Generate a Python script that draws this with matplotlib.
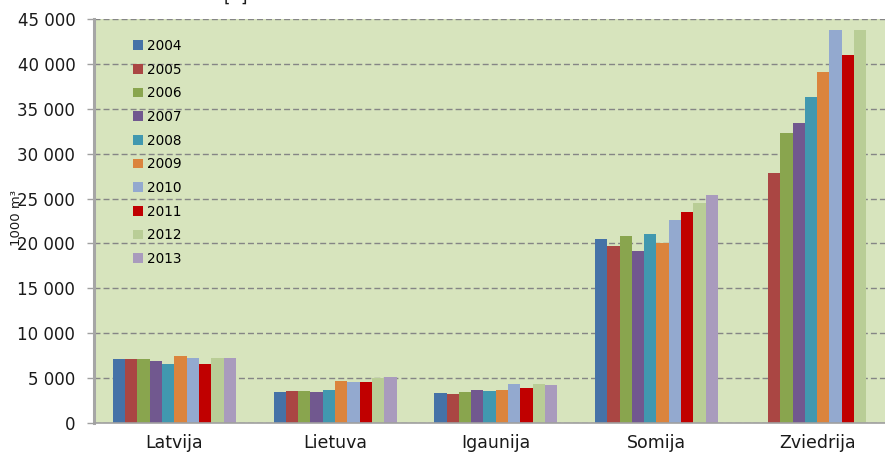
import numpy as np
import matplotlib.pyplot as plt
from matplotlib.patches import Patch
from matplotlib.ticker import FuncFormatter

countries = ['Latvija', 'Lietuva', 'Igaunija', 'Somija', 'Zviedrija']
years = ['2004', '2005', '2006', '2007', '2008', '2009', '2010', '2011', '2012', '2013']

# 1000 m3 per year, one list per country column (nan = no bar)
v2004 = [7100, 3450, 3380, 20500, np.nan]
v2005 = [7100, 3530, 3230, 19750, 27800]
v2006 = [7100, 3560, 3450, 20850, 32300]
v2007 = [6900, 3490, 3680, 19150, 33400]
v2008 = [6550, 3640, 3530, 21000, 36350]
v2009 = [7500, 4680, 3680, 20100, 39100]
v2010 = [7250, 4600, 4340, 22600, 43800]
v2011 = [6600, 4530, 3940, 23450, 41000]
v2012 = [7250, 5000, 4380, 24450, 43800]
v2013 = [7250, 5100, 4200, 25400, np.nan]
values = [v2004, v2005, v2006, v2007, v2008, v2009, v2010, v2011, v2012, v2013]

colors = ['#4572A7', '#AA4643', '#89A54E', '#71588F', '#4198AF',
          '#DB843D', '#93A9CF', '#C00000', '#B9CD96', '#A99BBD']

plt.rcParams['font.family'] = ['DejaVu Sans']

W, H = 885, 453
fig = plt.figure(figsize=(W / 100, H / 100), dpi=100)
ax = fig.add_axes([94 / W, 30 / H, 803.5 / W, 404 / H])
ax.set_facecolor('#D7E4BD')

x = np.arange(len(countries))
bw = 0.0765
for i, (yr, vals) in enumerate(zip(years, values)):
    ax.bar(x - 4.5 * bw + i * bw, vals, width=bw, color=colors[i], zorder=3)

ax.set_xlim(-0.5, 4.5)
ax.set_ylim(0, 45000)
ax.set_yticks(np.arange(0, 45001, 5000))
ax.yaxis.set_major_formatter(FuncFormatter(lambda v, p: f'{int(v):,}'.replace(',', ' ')))
ax.set_xticks(x)
ax.set_xticklabels(countries)

ax.grid(axis='y', color='#858585', linestyle=(0, (4.3, 2.2)), linewidth=1.0, zorder=1)
ax.tick_params(axis='y', length=5, width=1, color='#A0A0A0', pad=8.5,
               labelsize=12, labelcolor='#1A1A1A')
ax.tick_params(axis='x', length=0, pad=8, labelsize=12.5, labelcolor='#1A1A1A')

for s in ['top', 'right']:
    ax.spines[s].set_visible(False)
ax.spines['left'].set_color('#A6A6A6')
ax.spines['left'].set_linewidth(2.2)
ax.spines['bottom'].set_color('#A0A0A0')
ax.spines['bottom'].set_linewidth(1.2)
ax.spines['bottom'].set_zorder(4)

handles = [Patch(facecolor=c, edgecolor='none') for c in colors]
fig.legend(handles, years, loc='upper left', bbox_to_anchor=(133 / W, 1 - 39 / H),
           frameon=False, fontsize=9.8, handlelength=0.7, handleheight=0.7,
           handletextpad=0.3, labelspacing=0.71, borderpad=0, borderaxespad=0)

fig.text(16 / W, 1 - 218 / H, '1000 m³', rotation=90, ha='center', va='center',
         fontsize=9.5, color='#1A1A1A')
fig.text(236 / W, 1 - 2 / H, '[  ]', ha='center', va='baseline', fontsize=12,
         color='#1A1A1A')

fig.savefig('out.png', dpi=100)
